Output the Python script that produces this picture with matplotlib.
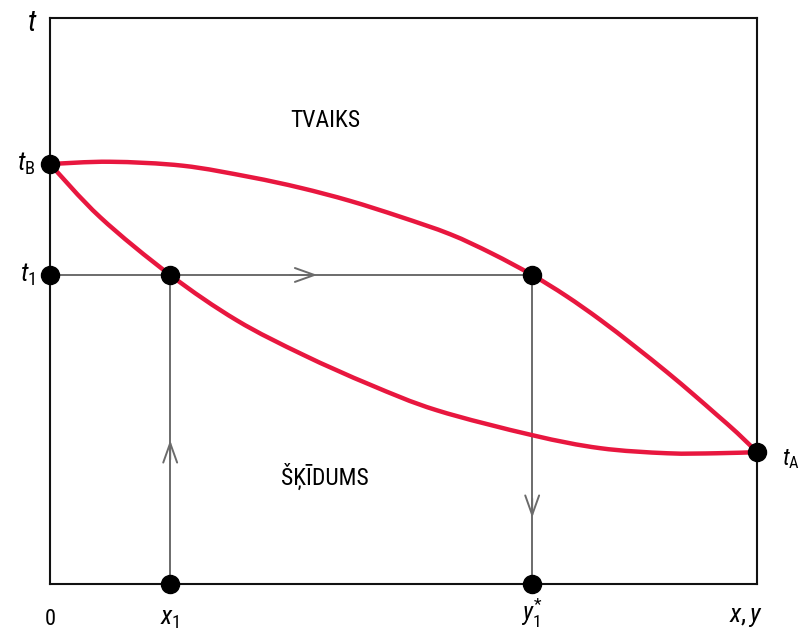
import matplotlib
matplotlib.use("Agg")
import matplotlib.pyplot as plt
from matplotlib import font_manager
from matplotlib.path import Path
from matplotlib.patches import PathPatch

# Binary mixture boiling diagram: composition (0..1) vs temperature (relative units)
dew_x = [0.0, 0.085, 0.188, 0.283, 0.354, 0.424, 0.495, 0.566, 0.625, 0.682,
         0.730, 0.778, 0.826, 0.873, 0.910, 0.943, 0.972, 1.0]
dew_t = [0.742, 0.746, 0.739, 0.719, 0.700, 0.677, 0.649, 0.618, 0.584, 0.546,
         0.509, 0.467, 0.421, 0.374, 0.335, 0.299, 0.267, 0.233]

bubble_x = [0.0, 0.071, 0.170, 0.264, 0.358, 0.453, 0.547, 0.682, 0.778, 0.873,
            0.943, 1.0]
bubble_t = [0.742, 0.648, 0.546, 0.466, 0.405, 0.352, 0.307, 0.263, 0.240, 0.231,
            0.231, 0.233]

t_B = 0.742
t_A = 0.233
t_1 = 0.546
x_1 = 0.170
y_1 = 0.682

region_labels = ["TVAIKS", "ŠĶĪDUMS"]

available = {f.name for f in font_manager.fontManager.ttflist}
base_font = "DejaVu Sans"
for cand in ["Liberation Sans Narrow", "Roboto Condensed", "Open Sans Condensed",
             "Noto Sans Condensed", "DejaVu Sans Condensed", "Roboto", "Open Sans"]:
    if cand in available:
        base_font = cand
        break
plt.rcParams["font.family"] = [base_font, "DejaVu Sans"]
plt.rcParams["mathtext.fontset"] = "custom"
plt.rcParams["mathtext.rm"] = base_font
plt.rcParams["mathtext.it"] = base_font + ":italic"

RED = "#e8173f"
GREY = "#6b6b6b"


def smooth_path(xs, ys):
    """Catmull-Rom curve through the given points, as cubic Bezier segments."""
    pts = list(zip(xs, ys))
    verts = [pts[0]]
    codes = [Path.MOVETO]
    n = len(pts)
    for i in range(n - 1):
        p0 = pts[i - 1] if i > 0 else pts[i]
        p1 = pts[i]
        p2 = pts[i + 1]
        p3 = pts[i + 2] if i + 2 < n else pts[i + 1]
        c1 = (p1[0] + (p2[0] - p0[0]) / 6, p1[1] + (p2[1] - p0[1]) / 6)
        c2 = (p2[0] - (p3[0] - p1[0]) / 6, p2[1] - (p3[1] - p1[1]) / 6)
        verts += [c1, c2, p2]
        codes += [Path.CURVE4] * 3
    return Path(verts, codes)


fig = plt.figure(figsize=(8.01, 6.35), dpi=100)
ax = fig.add_axes([50 / 801, 51 / 635, 707 / 801, 566 / 635])
ax.set_xlim(0, 1)
ax.set_ylim(0, 1)
ax.set_xticks([])
ax.set_yticks([])
for s in ax.spines.values():
    s.set_linewidth(1.5)
    s.set_color("#111111")

# construction lines for the first equilibrium step
ax.plot([0, y_1], [t_1, t_1], color=GREY, lw=1.4, zorder=2)
ax.plot([x_1, x_1], [0, t_1], color=GREY, lw=1.4, zorder=2)
ax.plot([y_1, y_1], [0, t_1], color=GREY, lw=1.4, zorder=2)

arrow_style = dict(arrowstyle="->,head_length=1.4,head_width=0.5", color=GREY, lw=1.4,
                   shrinkA=0, shrinkB=0)
ax.annotate("", xy=(0.378, t_1), xytext=(0.34, t_1), arrowprops=arrow_style)
ax.annotate("", xy=(x_1, 0.254), xytext=(x_1, 0.22), arrowprops=arrow_style)
ax.annotate("", xy=(y_1, 0.117), xytext=(y_1, 0.151), arrowprops=arrow_style)

# equilibrium curves
for xs, ys in [(dew_x, dew_t), (bubble_x, bubble_t)]:
    ax.add_patch(PathPatch(smooth_path(xs, ys), facecolor="none", edgecolor=RED,
                           lw=3.2, capstyle="round", zorder=3))

# key points
pts_x = [0, 0, 1, x_1, y_1, x_1, y_1]
pts_t = [t_B, t_1, t_A, t_1, t_1, 0, 0]
ax.plot(pts_x, pts_t, "o", color="black", ms=13, clip_on=False, zorder=5)

fs = 19
ax.text(-0.018, 0.992, r"$t$", ha="right", va="center", fontsize=fs + 2)
ax.text(-0.02, t_B, r"$t_\mathrm{B}$", ha="right", va="center", fontsize=fs)
ax.text(-0.02, t_1, r"$t_\mathrm{1}$", ha="right", va="center", fontsize=fs)
ax.text(1.035, t_A - 0.012, r"$t_\mathrm{A}$", ha="left", va="center", fontsize=fs - 2)
ax.text(0.0, -0.062, "0", ha="center", va="center", fontsize=fs - 3)
ax.text(x_1, -0.062, r"$x_\mathrm{1}$", ha="center", va="center", fontsize=fs)
ax.text(y_1, -0.052, r"$y_\mathrm{1}^{*}$", ha="center", va="center", fontsize=fs - 1)
ax.text(0.985, -0.058, r"$x, y$", ha="center", va="center", fontsize=fs)

ax.text(0.389, 0.819, region_labels[0], ha="center", va="center", fontsize=17)
ax.text(0.389, 0.190, region_labels[1], ha="center", va="center", fontsize=17)

fig.savefig("out.png", dpi=100)
